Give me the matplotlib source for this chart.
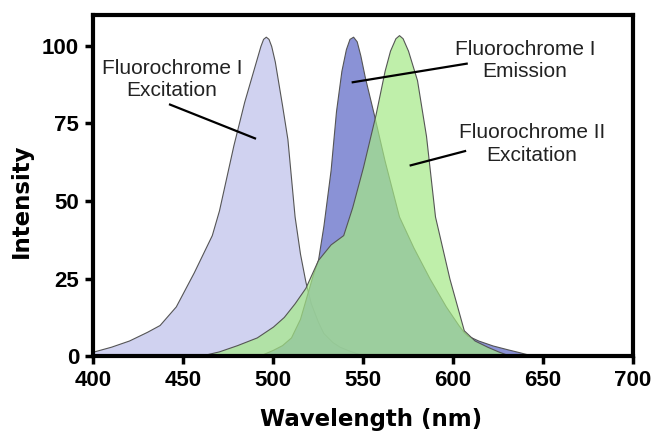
import matplotlib
matplotlib.use("Agg")
import matplotlib.pyplot as plt
import numpy as np

# Fluorochrome I excitation (lavender)
ex1_wl = [400, 410, 420, 430, 437, 446, 456, 466, 470, 478, 484, 489, 491, 493, 494.5, 496,
          497.5, 499, 501, 503, 505, 508, 512, 515, 518, 521, 525, 528, 533, 537, 542, 547, 551]
ex1_int = [1.4, 3, 5, 7.8, 10, 16, 27, 39, 47, 68, 82, 92, 96, 100, 102.3, 103,
           102.3, 100, 95, 88, 81, 70, 45, 33, 24, 17, 11, 7.4, 4.5, 3, 1.8, 0.8, 0]

# Fluorochrome I emission (blue)
em1_wl = [492, 500, 505, 510, 515, 519, 522, 525, 528, 532, 535, 538, 540.5, 542.5, 544.5,
          546.5, 548.5, 551, 556, 562, 570, 578, 587, 596, 603, 606, 608, 614, 622, 630, 637, 645]
em1_int = [0, 2, 3.5, 6, 12, 20, 26, 31, 42, 60, 79, 92, 99, 102.3, 103,
           101.5, 97, 90, 78, 63, 45, 35, 25, 16, 10, 7.7, 6.6, 5, 3.4, 2.2, 1.2, 0]

# Fluorochrome II excitation (green)
ex2_wl = [459, 470, 480, 491, 500, 506, 512, 518, 525, 532, 539, 544, 550, 557,
          562, 565, 568, 570, 572, 575, 580, 585, 590, 598, 606, 612, 619, 625, 632]
ex2_int = [0, 1.5, 3.5, 6, 9.5, 12.6, 17, 22, 31, 36, 39, 48, 61, 78,
           92, 98.5, 102.5, 103.5, 102.5, 98.5, 89, 71, 45, 25, 8.3, 5, 3, 1.5, 0]

x_ticks = [400, 450, 500, 550, 600, 650, 700]
y_ticks = [0, 25, 50, 75, 100]

fonts = ['Liberation Sans', 'DejaVu Sans']
plt.rcParams['font.family'] = fonts

fig = plt.figure(figsize=(6.53, 4.32), dpi=100)
ax = fig.add_axes([0.1424, 0.1759, 0.8270, 0.7894])

edge = '#555555'
ax.fill_between(ex1_wl, ex1_int, 0, facecolor=(188/255, 191/255, 234/255, 0.7),
                edgecolor=edge, linewidth=0.8)
ax.fill_between(em1_wl, em1_int, 0, facecolor=(118/255, 127/255, 207/255, 0.85),
                edgecolor=edge, linewidth=0.8)
ax.fill_between(ex2_wl, ex2_int, 0, facecolor=(165/255, 233/255, 135/255, 0.7),
                edgecolor=edge, linewidth=0.8)

ax.set_xlim(400, 700)
ax.set_ylim(0, 110)
ax.set_xticks(x_ticks)
ax.set_yticks(y_ticks)

for s in ax.spines.values():
    s.set_linewidth(3)
ax.tick_params(direction='out', length=6, width=2.5, pad=4, labelsize=16)
for lab in ax.get_xticklabels() + ax.get_yticklabels():
    lab.set_fontweight('bold')

# axis titles are wide in the original, DejaVu bold gets closer
ax.set_xlabel('Wavelength (nm)', fontsize=16.5, fontweight='bold', labelpad=12,
              family=['DejaVu Sans'])
ax.xaxis.label.set_x(0.515)
ax.set_ylabel('Intensity', fontsize=16.5, fontweight='bold',
              family=['DejaVu Sans'])
ax.yaxis.set_label_coords(-0.112, 50 / 110)

# labels with leader lines
txt = dict(fontsize=15, ha='center', va='center', linespacing=1.25, color='#222222')
ax.text(443.9, 89.2, 'Fluorochrome I\nExcitation', **txt)
ax.plot([442.8, 490], [81.1, 70.2], color='black', linewidth=1.6)
ax.text(640, 95.3, 'Fluorochrome I\nEmission', **txt)
ax.plot([607.6, 544.3], [94.3, 88.3], color='black', linewidth=1.6)
ax.text(643.9, 68.5, 'Fluorochrome II\nExcitation', **txt)
ax.plot([606.7, 576.5], [66.1, 61.5], color='black', linewidth=1.6)

fig.savefig('out.png', dpi=100)
